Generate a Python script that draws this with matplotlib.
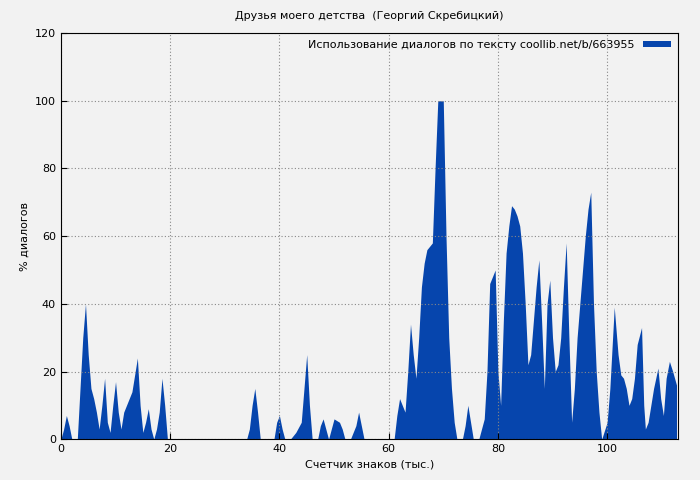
import matplotlib
matplotlib.use("Agg")
import matplotlib.pyplot as plt

# counter of characters (thousands) and % of dialogue
xs = [0, 0.5, 1, 1.5, 2, 3, 3.5, 4, 4.5, 5, 5.5, 6, 6.5, 7, 7.5, 8, 8.5, 9, 9.5, 10,
      10.5, 11, 11.5, 12, 13, 14, 14.5, 15, 15.5, 16, 16.5, 17, 17.5, 18, 18.5, 19, 19.5,
      34, 34.5, 35, 35.5, 36, 36.5, 39, 39.5, 40, 40.5, 41, 42, 43, 44, 44.5, 45, 45.5, 46,
      47, 47.5, 48, 48.5, 49, 49.5, 50, 51, 51.5, 52, 53, 54, 54.5, 55, 55.5,
      61, 61.5, 62, 62.5, 63, 63.5, 64, 64.5, 65, 65.5, 66, 66.5, 67, 68, 68.5, 69, 70,
      70.5, 71, 71.5, 72, 72.5, 73.5, 74, 74.5, 75, 75.5, 76.5, 77, 77.5, 78, 78.5, 79,
      79.5, 80, 80.5, 81, 81.5, 82, 82.5, 83, 83.5, 84, 84.5, 85, 85.5, 86, 86.5, 87, 87.5,
      88, 88.5, 89, 89.5, 90, 90.5, 91, 91.5, 92, 92.5, 93, 93.5, 94, 94.5, 95, 95.5, 96,
      96.5, 97, 97.5, 98, 98.5, 99, 100, 100.5, 101, 101.3, 102, 102.5, 103, 103.5, 104,
      104.5, 105, 105.5, 106.3, 106.7, 107, 107.5, 108, 108.5, 109.3, 109.8, 110.3, 110.8,
      111.4, 112, 112.7]
ys = [0, 3, 7, 4, 0, 0, 15, 30, 40, 25, 15, 12, 8, 3, 10, 18, 5, 2, 10, 17,
      8, 3, 8, 10, 14, 24, 10, 2, 5, 9, 3, 0, 3, 8, 18, 10, 0,
      0, 3, 10, 15, 8, 0, 0, 5, 7, 3, 0, 0, 2, 5, 15, 25, 10, 0,
      0, 4, 6, 3, 0, 3, 6, 5, 3, 0, 0, 4, 8, 4, 0,
      0, 7, 12, 10, 8, 20, 34, 25, 18, 30, 45, 52, 56, 58, 80, 100, 100,
      60, 30, 15, 5, 0, 0, 4, 10, 5, 0, 0, 3, 6, 20, 46, 48,
      50, 20, 10, 35, 55, 63, 69, 68, 66, 63, 55, 40, 22, 25, 35, 45, 53,
      35, 15, 40, 47, 30, 20, 22, 30, 45, 58, 30, 5, 15, 30, 40, 50, 60,
      68, 73, 40, 20, 8, 0, 5, 15, 30, 39, 25, 19, 18, 15, 10,
      12, 18, 28, 33, 10, 3, 5, 10, 15, 21, 12, 7, 18,
      23, 20, 16]

bg = "#f2f2f2"
fig, ax = plt.subplots(figsize=(7, 4.8), dpi=100)
fig.patch.set_facecolor(bg)
ax.set_facecolor(bg)
fig.subplots_adjust(left=0.087, right=0.968, top=0.931, bottom=0.085)

ax.fill_between(xs, ys, 0, color="#0645ad", linewidth=0,
                label="Использование диалогов по тексту coollib.net/b/663955")
ax.set_xlim(0, 112.9)
ax.set_ylim(0, 120)
ax.set_xticks(range(0, 101, 20))
ax.set_yticks(range(0, 121, 20))
ax.tick_params(labelsize=8, direction="in", length=4)
ax.grid(True, color="#888888", linestyle=(0, (1, 2)), linewidth=0.8)
ax.set_title("Друзья моего детства  (Георгий Скребицкий)", fontsize=8, pad=10)
ax.set_xlabel("Счетчик знаков (тыс.)", fontsize=8)
ax.set_ylabel("% диалогов", fontsize=8)
leg = ax.legend(loc="upper right", fontsize=8, frameon=False, handlelength=2.5,
                handleheight=0.4, markerfirst=False, borderaxespad=0.2)
plt.savefig("out.png", facecolor=bg)
